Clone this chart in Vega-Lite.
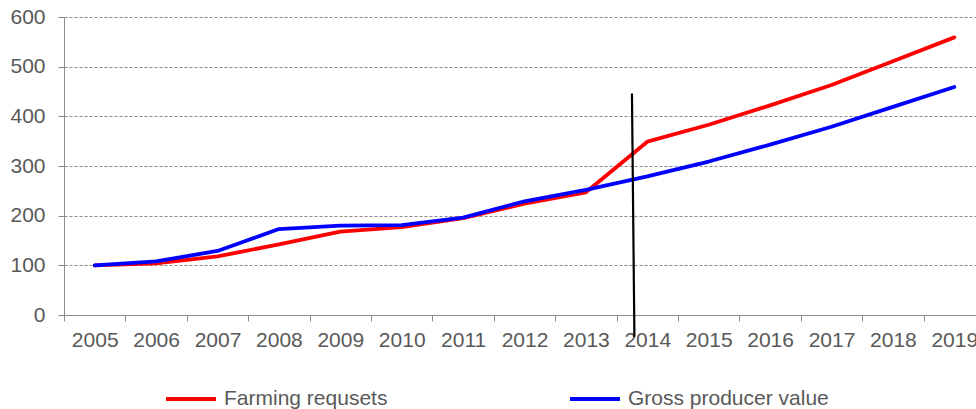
{
  "$schema": "https://vega.github.io/schema/vega-lite/v6.json",
  "autosize": {"type": "none"},
  "padding": {"left": 64, "top": 17, "right": 5, "bottom": 94},
  "width": 921,
  "height": 298,
  "background": "white",
  "config": {
    "view": {"stroke": null},
    "font": "Liberation Sans",
    "axis": {
      "labelFont": "Liberation Sans",
      "labelFontSize": 21,
      "labelColor": "#595959",
      "domainColor": "#8c8c8c",
      "tickColor": "#8c8c8c",
      "tickSize": 6,
      "title": null
    },
    "legend": {
      "labelFont": "Liberation Sans",
      "labelFontSize": 21,
      "labelColor": "#595959"
    }
  },
  "datasets": {
    "series": [
      {"year": "2005", "series": "Farming requsets", "value": 100},
      {"year": "2006", "series": "Farming requsets", "value": 104},
      {"year": "2007", "series": "Farming requsets", "value": 118},
      {"year": "2008", "series": "Farming requsets", "value": 142},
      {"year": "2009", "series": "Farming requsets", "value": 168},
      {"year": "2010", "series": "Farming requsets", "value": 177},
      {"year": "2011", "series": "Farming requsets", "value": 195},
      {"year": "2012", "series": "Farming requsets", "value": 224},
      {"year": "2013", "series": "Farming requsets", "value": 247},
      {"year": "2014", "series": "Farming requsets", "value": 349},
      {"year": "2015", "series": "Farming requsets", "value": 383},
      {"year": "2016", "series": "Farming requsets", "value": 422},
      {"year": "2017", "series": "Farming requsets", "value": 463},
      {"year": "2018", "series": "Farming requsets", "value": 511},
      {"year": "2019", "series": "Farming requsets", "value": 559},
      {"year": "2005", "series": "Gross producer value", "value": 100},
      {"year": "2006", "series": "Gross producer value", "value": 108},
      {"year": "2007", "series": "Gross producer value", "value": 129},
      {"year": "2008", "series": "Gross producer value", "value": 173},
      {"year": "2009", "series": "Gross producer value", "value": 180},
      {"year": "2010", "series": "Gross producer value", "value": 181},
      {"year": "2011", "series": "Gross producer value", "value": 196},
      {"year": "2012", "series": "Gross producer value", "value": 229},
      {"year": "2013", "series": "Gross producer value", "value": 252},
      {"year": "2014", "series": "Gross producer value", "value": 279},
      {"year": "2015", "series": "Gross producer value", "value": 309},
      {"year": "2016", "series": "Gross producer value", "value": 343},
      {"year": "2017", "series": "Gross producer value", "value": 379},
      {"year": "2018", "series": "Gross producer value", "value": 419},
      {"year": "2019", "series": "Gross producer value", "value": 459}
    ],
    "divider": [
      {"pos": 2013.75, "value": 446},
      {"pos": 2013.79, "value": -44}
    ]
  },
  "layer": [
    {
      "data": {"name": "series"},
      "mark": {"type": "line", "strokeWidth": 3.8, "strokeJoin": "round", "strokeCap": "round"},
      "encoding": {
        "x": {
          "field": "year",
          "type": "ordinal",
          "scale": {"type": "band", "paddingInner": 0, "paddingOuter": 0},
          "axis": {"labelAngle": 0, "tickBand": "extent", "labelPadding": 8, "grid": false}
        },
        "y": {
          "field": "value",
          "type": "quantitative",
          "scale": {"domain": [0, 600], "nice": false},
          "axis": {
            "values": [0, 100, 200, 300, 400, 500, 600],
            "grid": true,
            "gridColor": "#8c8c8c",
            "gridDash": [3, 2],
            "gridWidth": 1,
            "labelPadding": 13
          }
        },
        "color": {
          "field": "series",
          "type": "nominal",
          "scale": {"domain": ["Farming requsets", "Gross producer value"], "range": ["#FF0000", "#0000FF"]},
          "legend": {
            "title": null,
            "orient": "none",
            "legendX": 100,
            "legendY": 355,
            "padding": 0,
            "direction": "horizontal",
            "symbolType": "stroke",
            "symbolSize": 2500,
            "symbolStrokeWidth": 3.8,
            "labelOffset": 6,
            "labelLimit": 400,
            "columnPadding": 174
          }
        }
      }
    },
    {
      "data": {"name": "divider"},
      "mark": {"type": "line", "color": "black", "strokeWidth": 2.2},
      "encoding": {
        "x": {
          "field": "pos",
          "type": "quantitative",
          "scale": {"domain": [2004.5, 2019.5], "nice": false, "zero": false},
          "axis": null
        },
        "y": {
          "field": "value",
          "type": "quantitative",
          "scale": {"domain": [0, 600], "nice": false}
        }
      }
    }
  ],
  "resolve": {"scale": {"x": "independent"}}
}
